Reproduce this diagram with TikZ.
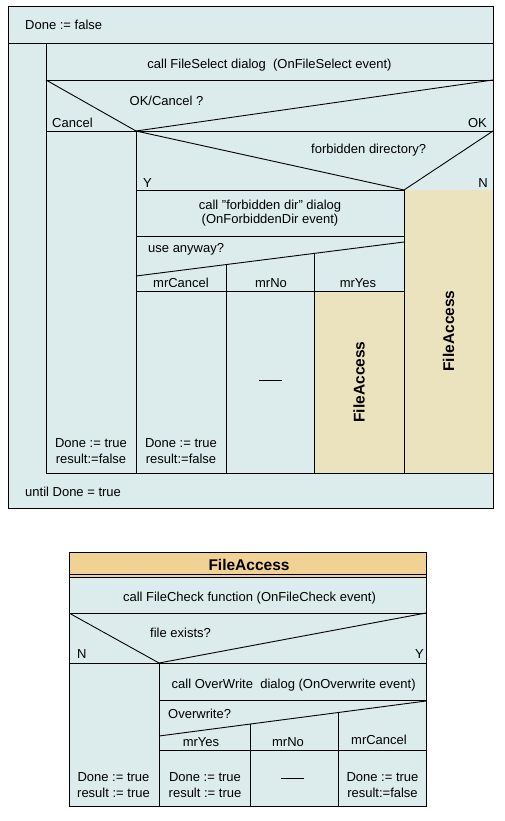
\documentclass[tikz,border=0pt]{standalone}
\usepackage{fontspec}
\setmainfont{Liberation Sans}[Ligatures=ResetAll]
\usepackage{xcolor}
\usepackage{tikz}
\definecolor{nsblue}{HTML}{DCEBEB}
\definecolor{nstan}{HTML}{EBE3BD}
\definecolor{nsorange}{HTML}{F2D194}

\tikzset{
  nsline/.style={draw=black, line width=0.9pt},
  txt/.style={inner sep=0pt, font=\fontsize{13}{16}\selectfont},
  twoline/.style={txt, align=center},
  fatxt/.style={inner sep=0pt, font=\fontsize{15.5}{18}\selectfont\bfseries},
  nodash/.style={inner sep=0pt, minimum width=23pt, minimum height=0.9pt, fill=black},
}

\begin{document}
\begin{tikzpicture}[x=1pt, y=-1pt]
  \useasboundingbox (0,0) rectangle (504,821);

  % repeat loop: fills
  \fill[nsblue] (8,6) rectangle (493,508);
  \fill[nstan] (314,291) rectangle (404,473);
  \fill[nstan] (404,190) rectangle (493,473);

  % repeat loop: frame
  \draw[nsline] (8,6) rectangle (493,508);
  \draw[nsline] (8,43) -- (493,43);
  \draw[nsline] (46,43) -- (46,473) -- (493,473);
  \draw[nsline] (46,80) -- (493,80);

  % OK/Cancel ?
  \coordinate (okvtx) at (136,131);
  \draw[nsline] (46,80) -- (okvtx) -- (493,80);
  \draw[nsline] (46,131) -- (493,131);
  \draw[nsline] (okvtx) -- (136,473);

  % forbidden directory?
  \coordinate (fbvtx) at (404,190);
  \draw[nsline] (okvtx) -- (fbvtx) -- (493,131);
  \draw[nsline] (136,190) -- (fbvtx) -- (404,473);
  \draw[nsline] (136,236) -- (404,236);

  % use anyway?
  \coordinate (ualeft) at (136,276);
  \coordinate (uaright) at (404,242);
  \draw[nsline] (ualeft) -- (uaright);
  \draw[nsline] (226,264.6) -- (226,473);
  \draw[nsline] (314,253.4) -- (314,473);
  \draw[nsline] (136,291) -- (404,291);

  \node[txt, anchor=base west] (doneinit) at (25,30) {Done := false};
  \node[txt, anchor=base] (fileselect) at (269.5,69) {call FileSelect dialog\ \ (OnFileSelect event)};
  \node[txt, anchor=base west] (okcancel) at (129.5,106) {OK/Cancel ?};
  \node[txt, anchor=base west] (lblcancel) at (52,128) {Cancel};
  \node[txt, anchor=base east] (lblok) at (487,128) {OK};
  \node[txt, anchor=base west] (forbidden) at (311,154) {forbidden directory?};
  \node[txt, anchor=base west] (lbly) at (143,187) {Y};
  \node[txt, anchor=base east] (lbln) at (488,187) {N};
  \node[txt, align=center, font=\fontsize{13}{14}\selectfont] (fbdialog) at (270,213.5)
    {call "forbidden dir" dialog\\(OnForbiddenDir event)};
  \node[txt, anchor=base west] (useanyway) at (148,252) {use anyway?};
  \node[txt, anchor=base] (ucancel) at (181,287) {mrCancel};
  \node[txt, anchor=base] (uno) at (271,287) {mrNo};
  \node[txt, anchor=base] (uyes) at (358,287) {mrYes};
  \node[twoline] (cancelset) at (91,451) {Done := true\\result:=false};
  \node[twoline] (ucancelset) at (181,451) {Done := true\\result:=false};
  \node[nodash] (unodash) at (270,380) {};
  \node[fatxt, rotate=90] (uyesfa) at (359,382) {FileAccess};
  \node[fatxt, rotate=90] (nfa) at (448.5,331) {FileAccess};
  \node[txt, anchor=base west] (until) at (25,496) {until Done = true};

  % FileAccess: fills
  \fill[nsblue] (69,552) rectangle (426,806);
  \fill[nsorange] (69,552) rectangle (426,577);

  % FileAccess: frame
  \draw[nsline] (69,552) rectangle (426,806);
  \draw[nsline] (69,574) -- (426,574);
  \draw[nsline] (69,577) -- (426,577);
  \draw[nsline] (69,613) -- (426,613);

  % file exists?
  \coordinate (fevtx) at (159,663);
  \draw[nsline] (69,613) -- (fevtx) -- (426,613);
  \draw[nsline] (69,663) -- (426,663);
  \draw[nsline] (fevtx) -- (159,806);
  \draw[nsline] (159,700) -- (426,700);

  % Overwrite?
  \coordinate (owleft) at (159,736);
  \coordinate (owright) at (426,701);
  \draw[nsline] (owleft) -- (owright);
  \draw[nsline] (250,724.1) -- (250,806);
  \draw[nsline] (338,712.5) -- (338,806);
  \draw[nsline] (159,750) -- (426,750);

  \node[fatxt, anchor=base] (fatitle) at (249,570) {FileAccess};
  \node[txt, anchor=base] (filecheck) at (249.5,601.5) {call FileCheck function (OnFileCheck event)};
  \node[txt, anchor=base west] (fileexists) at (150,637) {file exists?};
  \node[txt, anchor=base west] (felbln) at (77,658) {N};
  \node[txt, anchor=base east] (felbly) at (424,658) {Y};
  \node[txt, anchor=base west] (owdialog) at (171.5,688) {call OverWrite\ \ dialog (OnOverwrite event)};
  \node[txt, anchor=base west] (overwrite) at (168,718) {Overwrite?};
  \node[txt, anchor=base] (owyes) at (201,746) {mrYes};
  \node[txt, anchor=base] (owno) at (288,746) {mrNo};
  \node[txt, anchor=base] (owcancel) at (379,744) {mrCancel};
  \node[twoline] (nset) at (113.5,785) {Done := true\\result := true};
  \node[twoline] (owyesset) at (205,785) {Done := true\\result := true};
  \node[nodash] (ownodash) at (292,778) {};
  \node[twoline] (owcancelset) at (382.5,785) {Done := true\\result:=false};
\end{tikzpicture}
\end{document}
